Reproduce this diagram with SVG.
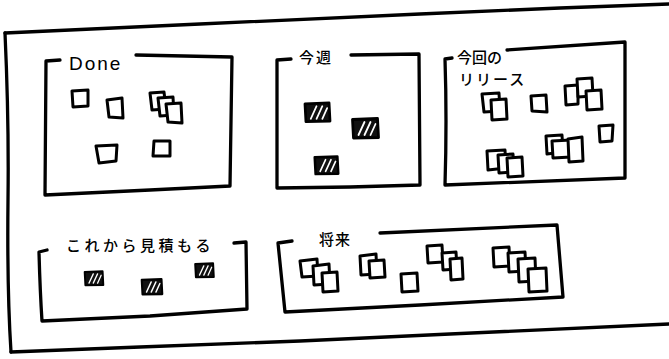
<svg xmlns="http://www.w3.org/2000/svg" width="669" height="359" viewBox="0 0 669 359">
<defs>
<style>
.ln{fill:none;stroke:#000;stroke-width:3.3;stroke-linecap:round;stroke-linejoin:round}
.sq{fill:#fff;stroke:#000;stroke-width:3;stroke-linejoin:round}
.hs{fill:#111;stroke:#000;stroke-width:2.8;stroke-linejoin:round}
.hw{stroke:#fff;stroke-width:1.8;stroke-linecap:round}
.lbl{font-family:"Noto Sans CJK JP","Noto Sans",sans-serif;font-size:15px;font-weight:500;fill:#000}
.done{font-family:"Liberation Sans",sans-serif;font-size:19px;fill:#000;letter-spacing:2px}
</style>
<symbol id="hatch" viewBox="0 0 28 21" overflow="visible">
<path class="hs" d="M1,1.5 L26,0.5 L27,19.5 L2,20 Z"/>
<line class="hw" x1="7" y1="17" x2="13" y2="4"/>
<line class="hw" x1="13" y1="17" x2="19" y2="4"/>
<line class="hw" x1="19" y1="17" x2="24" y2="6"/>
</symbol>
</defs>
<rect width="669" height="359" fill="#fff"/>

<g id="frame">
<path class="ln" d="M5,33 L200,24 L420,14 L560,8 L669,4"/>
<path class="ln" d="M5,33 Q9,120 8,200 Q7,290 11,352"/>
<path class="ln" d="M11,352 L140,347 L300,341 L450,334 L669,324"/>
</g>

<g id="done">
<path class="ln" d="M60,60 L46,61 L45,195 L150,190 L230,186 L232,57 L136,55"/>
<text class="done" x="69" y="70">Done</text>
<path class="sq" d="M72,91 L88,90 L88,106 L73,107 Z"/>
<path class="sq" d="M107,100 L122,98 L123,118 L109,117 Z"/>
<path class="sq" d="M150,93 L164,92 L166,109 L152,110 Z"/>
<path class="sq" d="M158,98 L173,97 L174,115 L160,116 Z"/>
<path class="sq" d="M166,104 L181,103 L182,123 L168,122 Z"/>
<path class="sq" d="M96,146 L117,145 L116,161 L99,163 Z"/>
<path class="sq" d="M154,141 L170,141 L170,156 L153,156 Z"/>
</g>

<g id="thisweek">
<path class="ln" d="M291,59 L277,60 L277,188 L350,187 L420,185 L419,54 L351,55"/>
<text class="lbl" x="299" y="63" letter-spacing="2">今週</text>
<use href="#hatch" x="304" y="102" width="27" height="21"/>
<use href="#hatch" x="351" y="118" width="29" height="21"/>
<use href="#hatch" x="313" y="156" width="27" height="19"/>
</g>

<g id="release">
<path class="ln" d="M452,58 L445,59 Q447,120 445,185 L625,178 L625,42 L507,50"/>
<text class="lbl" x="457" y="63" font-size="13">今回の</text>
<text class="lbl" x="459" y="85" font-size="13" letter-spacing="2">リリース</text>
<path class="sq" d="M482,94 L499,93 L500,111 L484,112 Z"/>
<path class="sq" d="M491,100 L506,99 L507,119 L492,120 Z"/>
<path class="sq" d="M531,96 L546,95 L547,112 L532,111 Z"/>
<path class="sq" d="M565,86 L578,85 L578,104 L566,105 Z"/>
<path class="sq" d="M577,79 L592,78 L593,96 L578,97 Z"/>
<path class="sq" d="M586,91 L601,90 L602,109 L587,110 Z"/>
<path class="sq" d="M599,126 L613,125 L612,141 L600,142 Z"/>
<path class="sq" d="M546,136 L562,135 L563,152 L547,154 Z"/>
<path class="sq" d="M552,141 L571,140 L571,157 L553,158 Z"/>
<path class="sq" d="M568,139 L582,137 L583,161 L569,162 Z"/>
<path class="sq" d="M487,151 L505,150 L506,168 L488,170 Z"/>
<path class="sq" d="M498,155 L513,154 L514,172 L499,173 Z"/>
<path class="sq" d="M507,158 L522,157 L523,176 L508,177 Z"/>
</g>

<g id="estimate">
<path class="ln" d="M47,250 L39,252 Q40,290 42,321 L150,316 L247,309 L246,242 L234,243"/>
<text class="lbl" x="66" y="251" letter-spacing="3.5">これから見積もる</text>
<use href="#hatch" x="84" y="270" width="20" height="17"/>
<use href="#hatch" x="141" y="278" width="22" height="18"/>
<use href="#hatch" x="194" y="263" width="21" height="15"/>
</g>

<g id="future">
<path class="ln" d="M292,241 L278,243 L285,312 L420,305 L563,297 L557,225 L380,233"/>
<text class="lbl" x="319" y="245" letter-spacing="1">将来</text>
<path class="sq" d="M300,261 L317,259 L318,276 L302,277 Z"/>
<path class="sq" d="M313,266 L329,264 L330,284 L314,285 Z"/>
<path class="sq" d="M322,273 L337,272 L338,291 L323,292 Z"/>
<path class="sq" d="M360,256 L376,254 L377,274 L361,275 Z"/>
<path class="sq" d="M369,261 L384,260 L385,277 L370,278 Z"/>
<path class="sq" d="M401,274 L417,273 L418,291 L402,292 Z"/>
<path class="sq" d="M427,246 L442,245 L443,262 L428,263 Z"/>
<path class="sq" d="M442,253 L456,252 L457,269 L443,270 Z"/>
<path class="sq" d="M450,259 L462,258 L463,279 L451,280 Z"/>
<path class="sq" d="M493,248 L509,247 L510,266 L494,267 Z"/>
<path class="sq" d="M508,253 L525,252 L526,271 L509,272 Z"/>
<path class="sq" d="M518,259 L535,258 L536,281 L519,282 Z"/>
<path class="sq" d="M528,269 L546,268 L547,291 L529,292 Z"/>
</g>

<g id="connectors"/>
</svg>
